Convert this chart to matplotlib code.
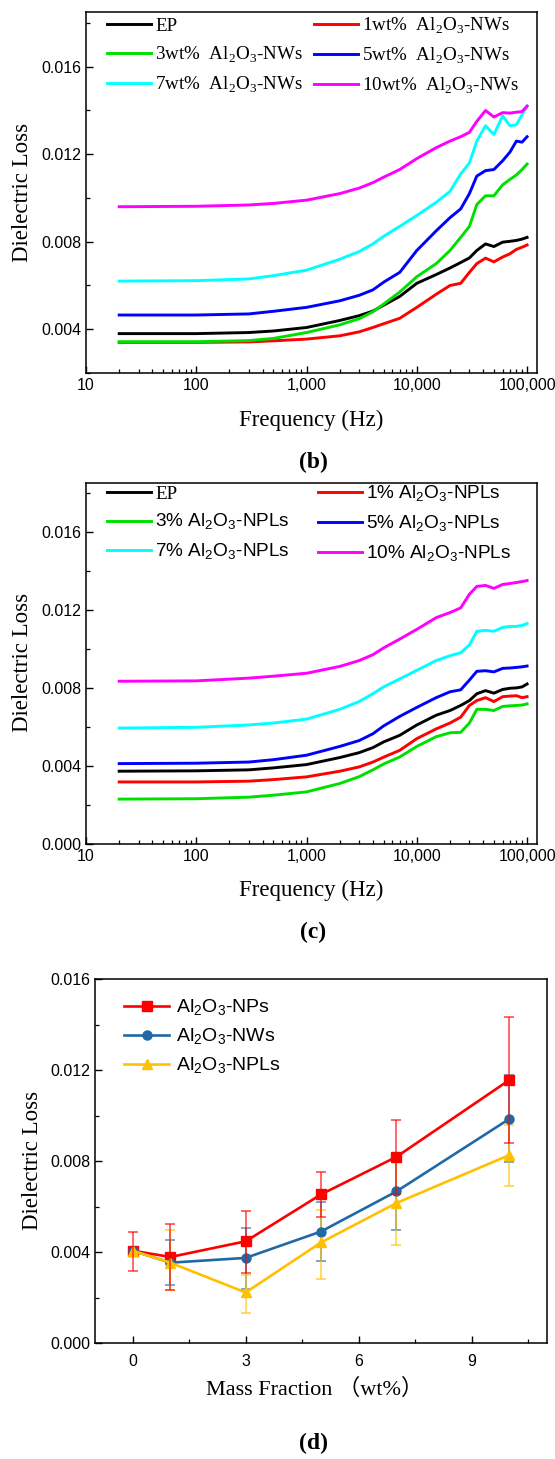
import matplotlib
matplotlib.use("Agg")
import matplotlib.pyplot as plt
from matplotlib.ticker import FixedLocator, MultipleLocator, FuncFormatter, LogLocator, NullFormatter

plt.rcParams['font.family'] = ['Liberation Sans', 'DejaVu Sans']
plt.rcParams['axes.linewidth'] = 1.1

SERIF = ['Liberation Serif', 'Noto Sans CJK SC', 'DejaVu Serif']
SANS = ['Liberation Sans', 'DejaVu Sans']
AL2O3 = r'Al$_\mathregular{2}$O$_\mathregular{3}$'

# ---- frequency sweep (Hz), shared by panels b and c
freq = [20, 100, 300, 500, 1000, 2000, 3000, 4000, 5000, 7000, 10000, 15000, 20000, 25000,
        30000, 35000, 42000, 50000, 60000, 70000, 80000, 90000, 100000]

# panel (b): Al2O3 nanowires
b_ep = [0.00380, 0.00380, 0.00385, 0.00392, 0.00408, 0.00440, 0.00462, 0.00483, 0.00510, 0.00550,
        0.00610, 0.00650, 0.00680, 0.00705, 0.00726, 0.00760, 0.00790, 0.00778, 0.00798, 0.00802,
        0.00806, 0.00812, 0.00820]
b_1 = [0.00340, 0.00340, 0.00342, 0.00347, 0.00355, 0.00370, 0.00388, 0.00408, 0.00425, 0.00450,
       0.00500, 0.00560, 0.00600, 0.00610, 0.00660, 0.00700, 0.00725, 0.00708, 0.00730, 0.00745,
       0.00765, 0.00775, 0.00785]
b_3 = [0.00343, 0.00343, 0.00348, 0.00358, 0.00385, 0.00420, 0.00448, 0.00480, 0.00515, 0.00570,
       0.00640, 0.00700, 0.00760, 0.00820, 0.00870, 0.00970, 0.01010, 0.01010, 0.01060, 0.01085,
       0.01105, 0.01130, 0.01155]
b_5 = [0.00465, 0.00465, 0.00470, 0.00482, 0.00500, 0.00530, 0.00555, 0.00580, 0.00615, 0.00660,
       0.00760, 0.00850, 0.00910, 0.00950, 0.01020, 0.01100, 0.01125, 0.01130, 0.01170, 0.01210,
       0.01260, 0.01255, 0.01280]
b_7 = [0.00620, 0.00622, 0.00630, 0.00645, 0.00670, 0.00720, 0.00755, 0.00790, 0.00825, 0.00870,
       0.00920, 0.00980, 0.01030, 0.01110, 0.01160, 0.01260, 0.01330, 0.01290, 0.01375, 0.01330,
       0.01335, 0.01380, 0.01420]
b_10 = [0.00960, 0.00962, 0.00968, 0.00975, 0.00990, 0.01020, 0.01045, 0.01070, 0.01095, 0.01130,
        0.01180, 0.01230, 0.01260, 0.01280, 0.01300, 0.01350, 0.01400, 0.01370, 0.01390, 0.01388,
        0.01392, 0.01395, 0.01420]
b_labels = ['EP', '1wt%  ' + AL2O3 + '-NWs', '3wt%  ' + AL2O3 + '-NWs',
            '5wt%  ' + AL2O3 + '-NWs', '7wt%  ' + AL2O3 + '-NWs', '10wt%  ' + AL2O3 + '-NWs']

# panel (c): Al2O3 nanoplatelets
c_ep = [0.00373, 0.00375, 0.00380, 0.00390, 0.00407, 0.00443, 0.00468, 0.00494, 0.00523, 0.00557,
        0.00610, 0.00660, 0.00684, 0.00710, 0.00735, 0.00770, 0.00786, 0.00773, 0.00792, 0.00798,
        0.00800, 0.00805, 0.00820]
c_1 = [0.00318, 0.00318, 0.00322, 0.00330, 0.00344, 0.00373, 0.00395, 0.00420, 0.00445, 0.00480,
       0.00540, 0.00590, 0.00620, 0.00650, 0.00710, 0.00735, 0.00750, 0.00730, 0.00755, 0.00758,
       0.00760, 0.00750, 0.00755]
c_3 = [0.00230, 0.00232, 0.00240, 0.00250, 0.00267, 0.00310, 0.00345, 0.00380, 0.00410, 0.00446,
       0.00500, 0.00550, 0.00570, 0.00572, 0.00620, 0.00690, 0.00690, 0.00684, 0.00705, 0.00708,
       0.00710, 0.00712, 0.00718]
c_5 = [0.00412, 0.00414, 0.00420, 0.00432, 0.00455, 0.00500, 0.00530, 0.00565, 0.00605, 0.00654,
       0.00700, 0.00750, 0.00780, 0.00790, 0.00840, 0.00885, 0.00888, 0.00882, 0.00900, 0.00902,
       0.00905, 0.00908, 0.00912]
c_7 = [0.00594, 0.00598, 0.00610, 0.00620, 0.00640, 0.00690, 0.00730, 0.00770, 0.00805, 0.00846,
       0.00890, 0.00940, 0.00965, 0.00980, 0.01020, 0.01090, 0.01095, 0.01090, 0.01110, 0.01115,
       0.01115, 0.01120, 0.01130]
c_10 = [0.00834, 0.00836, 0.00850, 0.00860, 0.00875, 0.00910, 0.00940, 0.00970, 0.01005, 0.01050,
        0.01100, 0.01160, 0.01186, 0.01210, 0.01280, 0.01320, 0.01325, 0.01310, 0.01330, 0.01335,
        0.01340, 0.01345, 0.01350]
c_labels = ['EP', '1% ' + AL2O3 + '-NPLs', '3% ' + AL2O3 + '-NPLs',
            '5% ' + AL2O3 + '-NPLs', '7% ' + AL2O3 + '-NPLs', '10% ' + AL2O3 + '-NPLs']

line_colors = ['#000000', '#ff0000', '#00e000', '#0000ff', '#00ffff', '#ff00ff']

# panel (d): loss at a fixed frequency vs filler content
mass = [0, 1, 3, 5, 7, 10]
nps = [0.00406, 0.00378, 0.00447, 0.00653, 0.00818, 0.01156]
nps_hi = [0.00490, 0.00522, 0.00580, 0.00750, 0.00982, 0.01432]
nps_lo = [0.00318, 0.00232, 0.00308, 0.00554, 0.00653, 0.00881]
nws = [0.00406, 0.00353, 0.00374, 0.00490, 0.00666, 0.00985]
nws_hi = [0.00406, 0.00452, 0.00505, 0.00618, 0.00826, 0.01180]
nws_lo = [0.00406, 0.00255, 0.00238, 0.00362, 0.00497, 0.00797]
npls = [0.00406, 0.00353, 0.00222, 0.00442, 0.00615, 0.00826]
npls_hi = [0.00406, 0.00497, 0.00300, 0.00586, 0.00820, 0.00960]
npls_lo = [0.00406, 0.00233, 0.00131, 0.00280, 0.00430, 0.00690]
d_labels = [AL2O3 + '-NPs', AL2O3 + '-NWs', AL2O3 + '-NPLs']
d_colors = ['#ff0000', '#1f6aa6', '#ffc000']
d_markers = ['s', 'o', '^']

W, H = 555, 1459
fig = plt.figure(figsize=(W / 100, H / 100), dpi=100)


def px(x0, y0, x1, y1):
    return [x0 / W, 1 - y1 / H, (x1 - x0) / W, (y1 - y0) / H]


def style(ax):
    ax.tick_params(which='both', direction='in', top=False, right=False, labelsize=11.5)
    ax.tick_params(which='major', length=5, width=1)
    ax.tick_params(which='minor', length=3, width=0.9)


def freq_panel(ax, series, labels, ymin, serif_all, colsp, legy):
    for ys, lab, col in zip(series, labels, line_colors):
        ax.plot(freq, ys, color=col, lw=2.1, label=lab)
    ax.set_xscale('log')
    ax.set_xlim(10, 1.23e5)
    ax.set_ylim(ymin, 0.0185)
    ax.xaxis.set_major_locator(LogLocator(base=10, numticks=10))
    ax.xaxis.set_minor_locator(LogLocator(base=10, subs=range(2, 10), numticks=20))
    ax.xaxis.set_minor_formatter(NullFormatter())
    ax.xaxis.set_major_formatter(FuncFormatter(lambda v, p: f'{int(round(v)):,}'))
    ax.yaxis.set_major_locator(MultipleLocator(0.004))
    ax.yaxis.set_minor_locator(MultipleLocator(0.002))
    ax.yaxis.set_major_formatter(FuncFormatter(lambda v, p: f'{v:.3f}'))
    style(ax)
    h, l = ax.get_legend_handles_labels()
    order = [0, 2, 4, 1, 3, 5]
    leg = ax.legend([h[i] for i in order], [l[i] for i in order], ncol=2,
                    loc='upper left', bbox_to_anchor=(0.018, legy), frameon=False,
                    prop={'family': SERIF if serif_all else SANS, 'size': 13.7},
                    handlelength=2.3, handletextpad=0.2, columnspacing=colsp,
                    labelspacing=0.5, borderaxespad=0.3)
    for lh in leg.get_lines():
        lh.set_linewidth(2.1)
    leg.get_texts()[0].set_fontfamily(SERIF)
    return leg


# (b)
ax_b = fig.add_axes(px(86, 12, 537, 373))
freq_panel(ax_b, [b_ep, b_1, b_3, b_5, b_7, b_10], b_labels, 0.002, True, 0.6, 1.026)
fig.text(23 / W, 1 - 192 / H, 'Dielectric Loss', rotation=90, ha='center', va='center',
         family=SERIF, fontsize=16.5)
fig.text(311 / W, 1 - 420 / H, 'Frequency (Hz)', ha='center', va='center', family=SERIF, fontsize=16.5)
fig.text(313 / W, 1 - 462 / H, '(b)', ha='center', va='center', family=SERIF, fontsize=17, weight='bold')

# (c)
ax_c = fig.add_axes(px(86, 483, 537, 844))
freq_panel(ax_c, [c_ep, c_1, c_3, c_5, c_7, c_10], c_labels, 0.0, False, 1.5, 1.035)
fig.text(23 / W, 1 - 662 / H, 'Dielectric Loss', rotation=90, ha='center', va='center',
         family=SERIF, fontsize=16.5)
fig.text(311 / W, 1 - 890 / H, 'Frequency (Hz)', ha='center', va='center', family=SERIF, fontsize=16.5)
fig.text(313 / W, 1 - 932 / H, '(c)', ha='center', va='center', family=SERIF, fontsize=17, weight='bold')

# (d)
ax_d = fig.add_axes(px(95, 979, 547, 1343))
d_sets = [(nps, nps_lo, nps_hi), (nws, nws_lo, nws_hi), (npls, npls_lo, npls_hi)]
for k, ((ys, lo, hi), lab, col, mk) in enumerate(zip(d_sets, d_labels, d_colors, d_markers)):
    err = [[y - a for y, a in zip(ys, lo)], [b - y for y, b in zip(ys, hi)]]
    ax_d.errorbar(mass, ys, yerr=err, fmt='none', ecolor=col, elinewidth=1.1, capsize=3.5,
                  capthick=1.1, alpha=0.75, zorder=4 if k == 0 else 2)
    ax_d.plot(mass, ys, color=col, lw=1.9, marker=mk, markersize=6.5, label=lab, zorder=3)
ax_d.set_xlim(-1, 11)
ax_d.set_ylim(0, 0.016)
ax_d.xaxis.set_major_locator(FixedLocator([0, 3, 6, 9]))
ax_d.xaxis.set_minor_locator(FixedLocator([1.5, 4.5, 7.5, 10.5]))
ax_d.yaxis.set_major_locator(MultipleLocator(0.004))
ax_d.yaxis.set_minor_locator(MultipleLocator(0.002))
ax_d.yaxis.set_major_formatter(FuncFormatter(lambda v, p: f'{v:.3f}'))
style(ax_d)
ax_d.tick_params(axis='x', pad=8)
ax_d.legend(loc='upper left', bbox_to_anchor=(0.035, 0.985), frameon=False,
            prop={'family': SANS, 'size': 14}, handlelength=2.3, handletextpad=0.35,
            labelspacing=0.45, borderaxespad=0.3)
fig.text(32 / W, 1 - 1160 / H, 'Dielectric Loss', rotation=90, ha='center', va='center',
         family=SERIF, fontsize=16.5)
fig.text(315 / W, 1 - 1389 / H, 'Mass Fraction （wt%）', ha='center', va='center',
         family=SERIF, fontsize=16)
fig.text(313 / W, 1 - 1443 / H, '(d)', ha='center', va='center', family=SERIF, fontsize=17, weight='bold')

fig.savefig('out.png', dpi=100)
